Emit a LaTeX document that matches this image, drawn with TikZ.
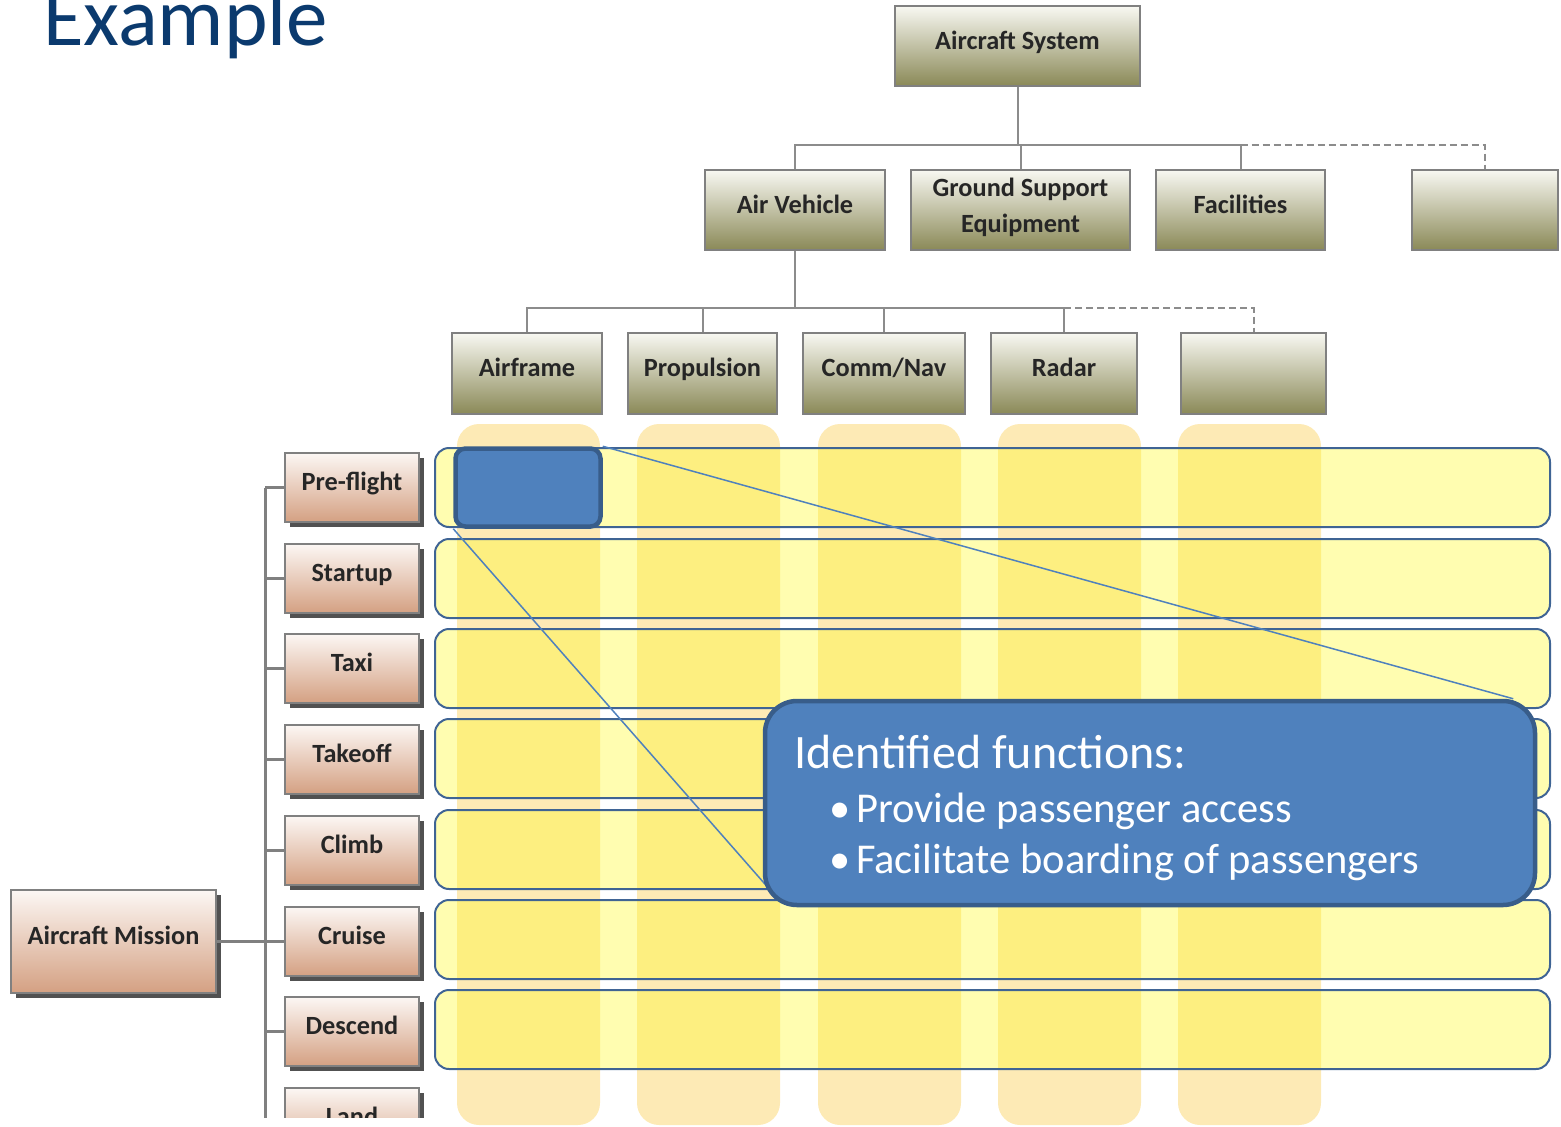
\documentclass[tikz,border=0pt]{standalone}
\usepackage{fontspec}
\setmainfont{Carlito}
\usetikzlibrary{shadows,calc}

\definecolor{titleblue}{HTML}{0B3A6E}
\definecolor{olivetop}{HTML}{F8F8F2}
\definecolor{olivebot}{HTML}{8A8957}
\definecolor{salmontop}{HTML}{FCF7F4}
\definecolor{salmonbot}{HTML}{D4A082}
\definecolor{boxedge}{HTML}{808080}
\definecolor{linkgray}{HTML}{8C8C8C}
\definecolor{peach}{HTML}{FDEAB5}
\definecolor{rowyellow}{RGB}{254,249,30}
\definecolor{rowedge}{HTML}{3F6494}
\definecolor{cellblue}{HTML}{4F81BD}
\definecolor{celledge}{HTML}{385D8A}
\definecolor{labeltext}{HTML}{262626}

\pgfdeclarelayer{front}
\pgfsetlayers{main,front}

\tikzset{
  x=1pt, y=-1pt,
  lbl/.style={font=\fontsize{26.3}{36}\selectfont\bfseries, text=labeltext,
    align=center, inner sep=0pt, text height=18pt, text depth=12pt},
  wbs/.style={lbl, draw=boxedge, line width=1.5pt,
    top color=olivetop, bottom color=olivebot, minimum width=#1},
  phase/.style={lbl, draw=boxedge, line width=1.5pt,
    top color=salmontop, bottom color=salmonbot, minimum width=#1,
    drop shadow={shadow xshift=5pt, shadow yshift=-5pt, fill=black!85, opacity=0.8}},
  tree/.style={draw=linkgray, line width=2pt},
  treedash/.style={tree, dash pattern=on 7pt off 4pt},
  spine/.style={draw=boxedge, line width=3pt},
  colbar/.style={fill=peach, rounded corners=22pt, minimum width=143pt,
    minimum height=701pt, inner sep=0pt},
  rowbox/.style={draw=rowedge, line width=2pt, fill=rowyellow, fill opacity=0.35,
    rounded corners=14pt, minimum width=1115pt, minimum height=79pt, inner sep=0pt},
  pick/.style={fill=cellblue, draw=celledge, inner sep=0pt},
  callink/.style={draw=cellblue, line width=1.5pt},
  calltext/.style={text=white, inner sep=0pt, anchor=base west},
}

\begin{document}
\begin{tikzpicture}
\useasboundingbox (0,0) rectangle (1561,1127);
\clip (0,0) rectangle (1561,1127);

% heading
\node[anchor=base west, inner sep=0pt, text=titleblue,
  font=\fontsize{83}{90}\selectfont] (title) at (43,45) {Example};

% system breakdown
\node[wbs=245pt, minimum height=80pt] (sys) at (1017.5,46) {Aircraft System};

\node[wbs=180pt, minimum height=80pt] (av)  at (795,210) {Air Vehicle};
\node[wbs=219pt, minimum height=80pt, text height=56pt] (gse) at (1020.5,210) {Ground Support\\Equipment};
\node[wbs=169pt, minimum height=80pt] (fac) at (1240.5,210) {Facilities};
\node[wbs=146pt, minimum height=80pt] (more1) at (1485,210) {};

\node[wbs=150pt, minimum height=81pt] (afr)   at (527,373.5) {Airframe};
\node[wbs=149pt, minimum height=81pt] (prop)  at (702.5,373.5) {Propulsion};
\node[wbs=162pt, minimum height=81pt] (comm)  at (884,373.5) {Comm/Nav};
\node[wbs=146pt, minimum height=81pt] (radar) at (1064,373.5) {Radar};
\node[wbs=145pt, minimum height=81pt] (more2) at (1253.5,373.5) {};

\coordinate (busA) at (0,145);
\coordinate (busB) at (0,308);

\draw[tree] (sys.south) -- (sys.south |- busA) -| (av.north);
\draw[tree] (sys.south |- busA) -| (fac.north);
\draw[tree] (gse.north |- busA) -- (gse.north);
\draw[treedash] (fac.north |- busA) -| (more1.north);

\draw[tree] (av.south) -- (av.south |- busB) -| (afr.north);
\draw[tree] (av.south |- busB) -| (radar.north);
\draw[tree] (prop.north |- busB) -- (prop.north);
\draw[tree] (comm.north |- busB) -- (comm.north);
\draw[treedash] (radar.north |- busB) -| (more2.north);

% mission breakdown
\begin{scope}
\clip (0,0) rectangle (440,1117);
\coordinate (spinex) at (265,0);
\node[phase=205pt, minimum height=103pt] (mission) at (113.5,941.5) {Aircraft Mission};
\node[phase=134pt, minimum height=69pt] (pre)     at (352,487.5)  {Pre-flight};
\node[phase=134pt, minimum height=69pt] (startup) at (352,578.5)  {Startup};
\node[phase=134pt, minimum height=69pt] (taxi)    at (352,668.5)  {Taxi};
\node[phase=134pt, minimum height=69pt] (takeoff) at (352,759.5)  {Takeoff};
\node[phase=134pt, minimum height=69pt] (climb)   at (352,850.5)  {Climb};
\node[phase=134pt, minimum height=69pt] (cruise)  at (352,941.5)  {Cruise};
\node[phase=134pt, minimum height=69pt] (descend) at (352,1031.5) {Descend};
\node[phase=134pt, minimum height=69pt] (land)    at (352,1122.5) {Land};
\draw[spine] (pre.west -| spinex) -- (land.west -| spinex);
\draw[spine] (mission.east) -- (cruise.west);
\foreach \p in {pre,startup,taxi,takeoff,climb,descend,land}
  \draw[spine] (\p.west -| spinex) -- (\p.west);
\end{scope}

% allocation matrix: columns under rows
\node[colbar] (col1) at (528.5,774.5) {};
\node[colbar] (col2) at (708.5,774.5) {};
\node[colbar] (col3) at (889.5,774.5) {};
\node[colbar] (col4) at (1069.5,774.5) {};
\node[colbar] (col5) at (1249.5,774.5) {};

\node[rowbox] (row1) at (992.5,487.5) {};
\node[rowbox] (row2) at (992.5,578.5) {};
\node[rowbox] (row3) at (992.5,668.5) {};
\node[rowbox] (row4) at (992.5,758.5) {};
\node[rowbox] (row5) at (992.5,849.5) {};
\node[rowbox] (row6) at (992.5,939.5) {};
\node[rowbox] (row7) at (992.5,1029.5) {};

% selected cell and its expansion, kept above the links
\begin{pgfonlayer}{front}
\node[pick, line width=4.5pt, rounded corners=10pt,
  minimum width=145pt, minimum height=78pt] (cell) at (528,487.5) {};
\node[pick, line width=4.5pt, rounded corners=32pt,
  minimum width=770pt, minimum height=204pt] (callout) at (1150,803) {};
\node[calltext, font=\fontsize{48}{56}\selectfont] (head) at (794,768) {Identified functions:};
\node[calltext, font=\fontsize{42.5}{50}\selectfont] (item1) at (824,822)
  {\makebox[32pt][c]{•}Provide passenger access};
\node[calltext, font=\fontsize{42.5}{50}\selectfont] (item2) at (824,873)
  {\makebox[32pt][c]{•}Facilitate boarding of passengers};
\end{pgfonlayer}

\coordinate (calloutTR) at ($(callout.north east)+(-24,0)$);
\coordinate (calloutBL) at ($(callout.south west)+(5,-20)$);
\draw[callink] (cell.north east) -- (calloutTR);
\draw[callink] (cell.south west) -- (calloutBL);
\end{tikzpicture}
\end{document}
